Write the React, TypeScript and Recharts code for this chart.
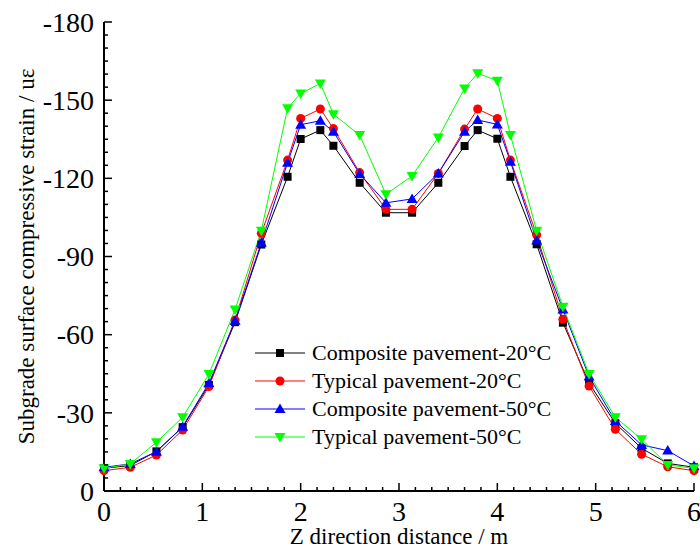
import { LineChart, Line, XAxis, YAxis, Legend } from 'recharts';

// Z direction distance (m)
const distance = [
  0, 0.267, 0.533, 0.8, 1.067, 1.333, 1.6, 1.867, 2.0, 2.2, 2.333, 2.6, 2.867,
  3.133, 3.4, 3.667, 3.8, 4.0, 4.133, 4.4, 4.667, 4.933, 5.2, 5.467, 5.733, 6.0,
];

// subgrade surface compressive strain (uε)
const composite20 = [
  -8.7, -9.8, -15.2, -24.5, -40.7, -64.8, -94.6, -120.6, -135.1, -138.5, -132.5, -118.3, -106.8,
  -106.8, -118.3, -132.4, -138.5, -135.2, -120.6, -94.7, -64.6, -41.4, -26.0, -16.4, -10.6, -9.1,
];
const typical20 = [
  -7.8, -9.1, -13.8, -23.4, -40.1, -65.6, -98.9, -127.0, -143.0, -146.6, -139.1, -122.2, -108.1,
  -108.1, -121.9, -138.9, -146.6, -143.0, -127.0, -98.3, -65.9, -40.3, -23.7, -14.1, -9.3, -7.8,
];
const composite50 = [
  -9.1, -10.4, -15.1, -24.7, -41.4, -65.3, -95.3, -126.0, -140.6, -142.1, -137.9, -121.7, -110.6,
  -112.1, -121.9, -137.9, -142.4, -140.7, -126.4, -96.1, -69.7, -43.9, -26.9, -17.7, -15.5, -9.6,
];
const typical50 = [
  -8.7, -10.4, -18.7, -28.3, -44.9, -69.7, -99.9, -146.9, -152.6, -156.4, -144.6, -136.6, -113.9,
  -120.9, -135.7, -154.5, -160.3, -157.5, -136.6, -99.9, -70.7, -44.9, -28.3, -19.9, -10.0, -8.7,
];

const xMajorTicks = [0, 1, 2, 3, 4, 5, 6];
const yMajorTicks = [0, -30, -60, -90, -120, -150, -180];

const FONT = '"Liberation Serif", "Times New Roman", serif';

// 5 minor ticks between majors, as in the original plot
const xTicks = xMajorTicks.flatMap((t, i) =>
  i === 0 ? [t] : [1, 2, 3, 4, 5, 6].map((k) => xMajorTicks[i - 1] + k / 6)
);
const yTicks = yMajorTicks.flatMap((t, i) =>
  i === 0 ? [t] : [1, 2, 3, 4, 5, 6].map((k) => yMajorTicks[i - 1] - k * 5)
);

const data = distance.map((x, i) => ({
  x,
  composite20: composite20[i],
  typical20: typical20[i],
  composite50: composite50[i],
  typical50: typical50[i],
}));

const series = [
  { key: 'composite20', name: 'Composite pavement-20°C', color: '#000000', shape: 'square' },
  { key: 'typical20', name: 'Typical pavement-20°C', color: '#ff0000', shape: 'circle' },
  { key: 'composite50', name: 'Composite pavement-50°C', color: '#0000ff', shape: 'up' },
  { key: 'typical50', name: 'Typical pavement-50°C', color: '#00ff00', shape: 'down' },
];

function Marker({ cx, cy, shape, color }: any) {
  if (cx == null || cy == null) return null;
  if (shape === 'square') return <rect x={cx - 4} y={cy - 4} width={8} height={8} fill={color} />;
  if (shape === 'circle') return <circle cx={cx} cy={cy} r={4.5} fill={color} />;
  if (shape === 'up')
    return <path d={`M${cx},${cy - 5.5}L${cx + 5.5},${cy + 4}L${cx - 5.5},${cy + 4}Z`} fill={color} />;
  return <path d={`M${cx - 5.5},${cy - 4}L${cx + 5.5},${cy - 4}L${cx},${cy + 5.5}Z`} fill={color} />;
}

function XTick({ x, y, payload }: any) {
  const v = payload.value;
  const major = Math.abs(v - Math.round(v)) < 1e-6;
  return (
    <g>
      <line x1={x} x2={x} y1={y} y2={y - (major ? 8 : 4)} stroke="#000" strokeWidth={1.5} />
      {major && (
        <text x={x} y={y + 30} textAnchor="middle" fontSize={28} fontFamily={FONT} fill="#000">
          {Math.round(v)}
        </text>
      )}
    </g>
  );
}

function YTick({ x, y, payload }: any) {
  const v = payload.value;
  const major = Math.abs(v % 30) < 1e-6;
  return (
    <g>
      <line x1={x} x2={x + (major ? 8 : 4)} y1={y} y2={y} stroke="#000" strokeWidth={1.5} />
      {major && (
        <text x={x - 10} y={y} dy="0.35em" textAnchor="end" fontSize={28} fontFamily={FONT} fill="#000">
          {Math.round(v) === 0 ? '0' : Math.round(v)}
        </text>
      )}
    </g>
  );
}

function LegendBox() {
  return (
    <div style={{ fontFamily: FONT, fontSize: 22, color: '#000' }}>
      {series.map((s) => (
        <div key={s.key} style={{ display: 'flex', alignItems: 'center', height: 28 }}>
          <svg width={50} height={14} style={{ marginRight: 7 }}>
            <line x1={0} x2={50} y1={7} y2={7} stroke={s.color} strokeWidth={1} />
            <Marker cx={25} cy={7} shape={s.shape} color={s.color} />
          </svg>
          <span style={{ lineHeight: '28px', whiteSpace: 'nowrap' }}>{s.name}</span>
        </div>
      ))}
    </div>
  );
}

export default function App() {
  return (
    <div style={{ width: 700, height: 548, background: '#fff' }}>
      <style>{'body{margin:0}'}</style>
      <LineChart width={700} height={548} data={data} margin={{ top: 22, right: 6, bottom: 0, left: 0 }}>
        <XAxis
          dataKey="x"
          type="number"
          domain={[0, 6]}
          ticks={xTicks}
          interval={0}
          height={57}
          tickSize={0}
          tickMargin={0}
          tickLine={false}
          tick={<XTick />}
          axisLine={{ stroke: '#000', strokeWidth: 2 }}
          label={{
            content: ({ viewBox }: any) => (
              <text
                x={viewBox.x + viewBox.width / 2}
                y={viewBox.y + viewBox.height - 4}
                textAnchor="middle"
                fontSize={23}
                fontFamily={FONT}
                fill="#000"
              >
                Z direction distance / m
              </text>
            ),
          }}
        />
        <XAxis xAxisId="top" orientation="top" dataKey="x" type="number" domain={[0, 6]} height={0} tick={false} tickLine={false} axisLine={{ stroke: '#000', strokeWidth: 2 }} />
        <YAxis
          type="number"
          domain={[-180, 0]}
          reversed
          ticks={yTicks}
          interval={0}
          width={104}
          tickSize={0}
          tickMargin={0}
          tickLine={false}
          tick={<YTick />}
          axisLine={{ stroke: '#000', strokeWidth: 2 }}
          label={{
            content: ({ viewBox }: any) => {
              const cy = viewBox.y + viewBox.height / 2;
              return (
                <text
                  transform={`rotate(-90, 34, ${cy})`}
                  x={34}
                  y={cy}
                  textAnchor="middle"
                  fontSize={23}
                  fontFamily={FONT}
                  fill="#000"
                >
                  Subgrade surface compressive strain / uε
                </text>
              );
            },
          }}
        />
        <YAxis yAxisId="right" orientation="right" type="number" domain={[-180, 0]} width={0} tick={false} tickLine={false} axisLine={{ stroke: '#000', strokeWidth: 2 }} />
        <Legend
          layout="vertical"
          align="center"
          verticalAlign="middle"
          content={<LegendBox />}
          wrapperStyle={{ position: 'absolute', left: 255, top: 339, width: 320, height: 112 }}
        />
        {series.map((s) => (
          <Line
            key={s.key}
            type="linear"
            dataKey={s.key}
            name={s.name}
            stroke={s.color}
            strokeWidth={1}
            isAnimationActive={false}
            dot={(p: any) => <Marker key={`${s.key}-${p.index}`} cx={p.cx} cy={p.cy} shape={s.shape} color={s.color} />}
            activeDot={false}
          />
        ))}
      </LineChart>
    </div>
  );
}
